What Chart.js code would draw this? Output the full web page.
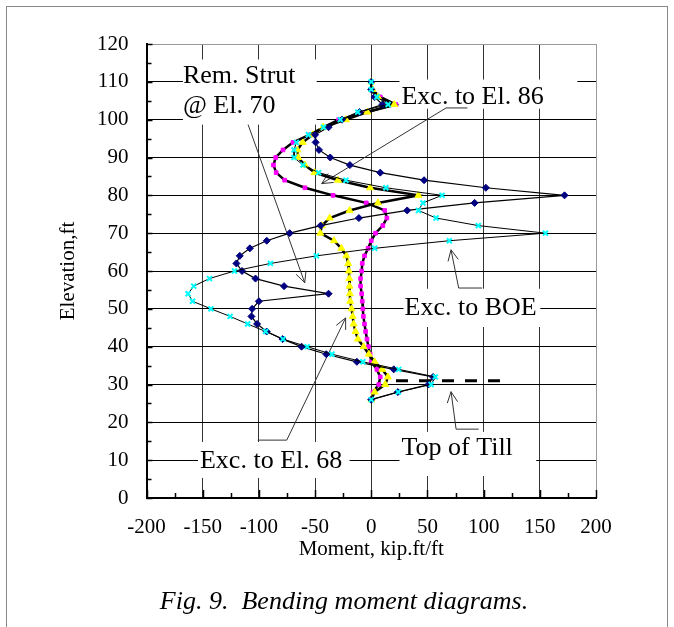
<!DOCTYPE html>
<html>
<head>
<meta charset="utf-8">
<script src="https://cdn.jsdelivr.net/npm/chart.js@4"></script>
<style>
  html, body { margin: 0; padding: 0; background: #fff; }
  #wrap { width: 674px; height: 627px; }
</style>
</head>
<body>
<div id="wrap"><canvas id="bm" width="674" height="627"></canvas></div>
<script>
// elevations (ft) shared by all four moment curves
const elevations = [110, 108, 106, 104, 102, 100, 98, 96, 94, 92, 90, 88, 86, 84, 82, 80, 78, 76, 74, 72, 70,
  68, 66, 64, 62, 60, 58, 56, 54, 52, 50, 48, 46, 44, 42, 40, 38, 36, 34, 32, 30, 28, 26];

// moment, kip.ft/ft
const remStrut = [0, 0, 3, 10, -10.5, -26, -38, -50, -49.5, -46.5, -36.5, -19, 8, 47, 102, 172, 92, 32, -11, -45, -72.6,
  -93, -108, -117, -120, -115, -103, -77.6, -38, -100, -106, -106.6, -101.6, -93, -79, -62, -40, -12.8, 20, 55, 51, 23.6, 0];
const excBOE = [0, 0, 5, 15, -12, -27.5, -42.5, -56, -66.6, -68.7, -68.7, -60.7, -46.8, -22.5, 13, 63, 46, 42, 57.7, 95.3, 155,
  69.5, 3, -48.8, -89.7, -121.7, -144, -158, -163, -159, -142.7, -125.6, -110, -94, -78.5, -57, -35, -7.5, 24.5, 57, 53.3, 24, 0];
const exc68 = [0, 1, 6, 20.5, -3.5, -22.5, -43, -52, -61, -65.7, -65, -59, -50.4, -29.6, -1, 42, 6, -19.3, -37, -44, -45.3,
  -33.2, -26.6, -22.2, -20.5, -19.9, -19.5, -19.3, -19, -18.7, -17.5, -16.5, -15.7, -14, -11.9, -6.8, -2.1, 3, 9.8, 14.8, 12.5, 3, 0];
const exc86 = [0, 0.5, 8, 22, -4, -29, -42, -55, -69.6, -78.5, -85, -87, -84.6, -77, -59, -34, -4.5, 12, 13.9, 10.3, 3.8,
  0, -2.8, -6, -8, -8.5, -9.5, -9.5, -8.5, -8, -7.5, -7, -6, -5, -3.8, -2.5, -1, 0, 5, 8, 6.7, 1.5, 0];

// top of till marker
const tillX = [22, 115];
const tillY = [31, 31];

const serif = "'Liberation Serif', 'Times New Roman', serif";

// annotation boxes / texts / leaders, in data units
const labelBoxes = [
  [-167.6, 115.9, -48.6, 98.7],
  [25.1, 110.6, 183.4, 102.9],
  [28.7, 55.3, 150.4, 45.2],
  [25.1, 17.5, 146.8, 5.8],
  [-154.2, 14.8, -19.3, 5.3]
];
const labelTexts = [
  ['Rem. Strut', -167.6, 109.7],
  ['@ El. 70', -167.6, 101.8],
  ['Exc. to El. 86', 26.9, 104.2],
  ['Exc. to BOE', 29.6, 48.4],
  ['Top of Till', 26.9, 11.4],
  ['Exc. to El. 68', -152.4, 8.0]
];
const leaders = [
  [[-109.6, 98.7], [-59.2, 56.9]],
  [[85.5, 103.1], [66.6, 103.1], [-44.1, 83.1]],
  [[98.6, 55.5], [77.8, 55.5], [71.0, 65.6]],
  [[95.6, 18.2], [75.5, 18.2], [71.0, 28.1]],
  [[-101, 15.3], [-75.2, 15.3], [-22.8, 47.6]]
];

const toPts = vals => vals.map((m, i) => ({ x: m, y: elevations[i] }));

const decor = {
  id: 'decor',
  beforeDraw(chart) {
    const ctx = chart.ctx;
    ctx.save();
    ctx.fillStyle = '#fff';
    ctx.fillRect(0, 0, chart.width, chart.height);
    ctx.strokeStyle = '#888';
    ctx.lineWidth = 1;
    ctx.strokeRect(6.5, 6.5, 661, 700);
    ctx.restore();
  },
  beforeDatasetsDraw(chart) {
    const ctx = chart.ctx;
    const xs = chart.scales.x, ys = chart.scales.y;
    const a = chart.chartArea;
    const px = v => xs.getPixelForValue(v);
    const py = v => ys.getPixelForValue(v);
    ctx.save();
    // white boxes behind the labels hide the grid
    ctx.fillStyle = '#fff';
    labelBoxes.forEach(b => {
      ctx.fillRect(px(b[0]), py(b[1]), px(b[2]) - px(b[0]), py(b[3]) - py(b[1]));
    });
    // inner ticks
    ctx.strokeStyle = '#000';
    ctx.lineWidth = 1.5;
    ctx.beginPath();
    for (let v = 0; v <= 120; v += 5) {
      const len = v % 10 === 0 ? 6 : 5;
      ctx.moveTo(a.left, Math.round(py(v)) + 0.5);
      ctx.lineTo(a.left + len, Math.round(py(v)) + 0.5);
    }
    for (let v = -200; v <= 200; v += 25) {
      const len = v % 50 === 0 ? 8 : 5;
      ctx.moveTo(Math.round(px(v)) + 0.5, a.bottom);
      ctx.lineTo(Math.round(px(v)) + 0.5, a.bottom - len);
    }
    ctx.stroke();
    // leader lines with open arrowheads
    ctx.strokeStyle = '#333';
    ctx.lineWidth = 1;
    leaders.forEach(pts => {
      ctx.beginPath();
      pts.forEach((p, i) => {
        if (i === 0) ctx.moveTo(px(p[0]), py(p[1]));
        else ctx.lineTo(px(p[0]), py(p[1]));
      });
      ctx.stroke();
      const p1 = pts[pts.length - 2], p2 = pts[pts.length - 1];
      const x1 = px(p1[0]), y1 = py(p1[1]), x2 = px(p2[0]), y2 = py(p2[1]);
      const ang = Math.atan2(y2 - y1, x2 - x1);
      ctx.beginPath();
      [-0.45, 0.45].forEach(d => {
        ctx.moveTo(x2, y2);
        ctx.lineTo(x2 - 12 * Math.cos(ang + d), y2 - 12 * Math.sin(ang + d));
      });
      ctx.stroke();
    });
    // label texts
    ctx.fillStyle = '#000';
    ctx.font = '26px ' + serif;
    ctx.textAlign = 'left';
    ctx.textBaseline = 'alphabetic';
    labelTexts.forEach(t => ctx.fillText(t[0], px(t[1]), py(t[2])));
    ctx.restore();
  },
  afterDraw(chart) {
    const ctx = chart.ctx;
    ctx.save();
    ctx.fillStyle = '#000';
    ctx.font = 'italic 26px ' + serif;
    ctx.textAlign = 'center';
    ctx.textBaseline = 'middle';
    ctx.fillText('Fig. 9.  Bending moment diagrams.', 344, 602);
    ctx.restore();
  }
};

new Chart(document.getElementById('bm'), {
  type: 'scatter',
  data: {
    datasets: [
      {
        label: 'Exc. to BOE', data: toPts(excBOE), showLine: true,
        borderColor: '#000', borderWidth: 1,
        pointStyle: 'crossRot', pointRadius: 3.5, pointBorderWidth: 2,
        pointBorderColor: '#00ffff', pointBackgroundColor: '#00ffff'
      },
      {
        label: 'Rem. Strut @ El. 70', data: toPts(remStrut), showLine: true,
        borderColor: '#000', borderWidth: 1.2,
        pointStyle: 'rectRot', pointRadius: 3.5, pointBorderWidth: 1,
        pointBorderColor: '#000080', pointBackgroundColor: '#000080'
      },
      {
        label: 'Exc. to El. 68', data: toPts(exc68), showLine: true,
        borderColor: '#000', borderWidth: 2.5,
        pointStyle: 'triangle', pointRadius: 4, pointBorderWidth: 1,
        pointBorderColor: '#ffff00', pointBackgroundColor: '#ffff00'
      },
      {
        label: 'Exc. to El. 86', data: toPts(exc86), showLine: true,
        borderColor: '#000', borderWidth: 2.5,
        pointStyle: 'rect', pointRadius: 2.6, pointBorderWidth: 1,
        pointBorderColor: '#ff00ff', pointBackgroundColor: '#ff00ff'
      },
      {
        label: 'Top of Till', data: tillX.map((x, i) => ({ x: x, y: tillY[i] })), showLine: true,
        borderColor: '#000', borderWidth: 3, borderDash: [12, 11], pointRadius: 0
      }
    ]
  },
  options: {
    responsive: false,
    animation: false,
    devicePixelRatio: 1,
    layout: { padding: { left: 55, right: 78, top: 44, bottom: 65 } },
    plugins: { legend: { display: false }, tooltip: { enabled: false } },
    scales: {
      x: {
        type: 'linear', min: -200, max: 200,
        ticks: { stepSize: 50, color: '#000', font: { family: serif, size: 21 }, padding: 17, maxRotation: 0 },
        grid: {
          drawTicks: false, lineWidth: 1,
          color: c => c.tick.value === 200 ? '#999' : (c.tick.value === -200 ? 'rgba(0,0,0,0)' : '#333')
        },
        border: { display: true, color: '#000', width: 2 },
        title: { display: true, text: 'Moment, kip.ft/ft', color: '#000', font: { family: serif, size: 21 }, padding: 0 },
        afterFit: s => { s.height = 64; }
      },
      y: {
        type: 'linear', min: 0, max: 120,
        ticks: { stepSize: 10, color: '#000', font: { family: serif, size: 21 }, padding: 18 },
        grid: {
          drawTicks: false, lineWidth: 1,
          color: c => c.tick.value === 120 ? '#999' : (c.tick.value === 0 ? 'rgba(0,0,0,0)' : '#000')
        },
        border: { display: true, color: '#000', width: 2 },
        title: { display: true, text: 'Elevation,ft', color: '#000', font: { family: serif, size: 21 }, padding: { top: 1, bottom: 0 } },
        afterFit: s => { s.width = 91.5; }
      }
    }
  },
  plugins: [decor]
});
</script>
</body>
</html>
